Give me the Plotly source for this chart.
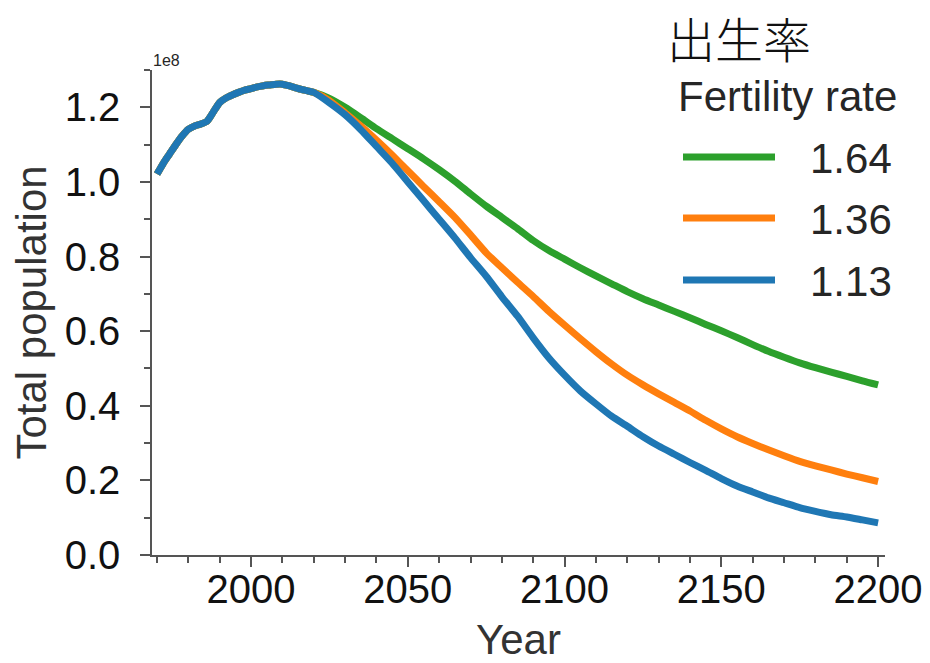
import plotly.graph_objects as go

# Recorded total population (units of 1e8 people)
hist_years = [1970, 1972, 1974, 1976, 1978, 1980, 1982, 1984, 1986, 1988,
              1990, 1992, 1994, 1996, 1998, 2000, 2002, 2004, 2006, 2008,
              2010, 2012, 2014, 2016, 2018, 2020]
hist_pop = [1.021, 1.050, 1.075, 1.100, 1.123, 1.141, 1.150, 1.155, 1.163, 1.188,
            1.213, 1.225, 1.233, 1.240, 1.246, 1.250, 1.255, 1.258, 1.260, 1.262,
            1.262, 1.258, 1.253, 1.248, 1.244, 1.240]

# Projection years
proj_years = [2025, 2030, 2035, 2040, 2045, 2050, 2055, 2060, 2065, 2070,
              2075, 2080, 2085, 2090, 2095, 2100, 2105, 2110, 2115, 2120,
              2125, 2130, 2135, 2140, 2145, 2150, 2155, 2160, 2165, 2170,
              2175, 2180, 2185, 2190, 2195, 2200]

# Projected population for each fertility rate (units of 1e8)
pop_164 = [1.224, 1.200, 1.172, 1.143, 1.116, 1.089, 1.062, 1.033, 1.002, 0.968,
           0.935, 0.905, 0.875, 0.843, 0.816, 0.793, 0.770, 0.748, 0.727, 0.706,
           0.687, 0.670, 0.653, 0.636, 0.618, 0.601, 0.583, 0.564, 0.546, 0.530,
           0.515, 0.502, 0.490, 0.479, 0.467, 0.456]
pop_136 = [1.218, 1.185, 1.150, 1.112, 1.072, 1.030, 0.988, 0.947, 0.905, 0.858,
           0.810, 0.770, 0.731, 0.693, 0.653, 0.616, 0.580, 0.545, 0.512, 0.482,
           0.456, 0.432, 0.409, 0.386, 0.361, 0.338, 0.317, 0.299, 0.282, 0.266,
           0.251, 0.239, 0.228, 0.217, 0.207, 0.197]
pop_113 = [1.212, 1.180, 1.140, 1.095, 1.050, 1.000, 0.950, 0.900, 0.850, 0.797,
           0.747, 0.692, 0.640, 0.582, 0.528, 0.482, 0.440, 0.405, 0.372, 0.345,
           0.317, 0.292, 0.270, 0.248, 0.227, 0.205, 0.185, 0.169, 0.153, 0.140,
           0.127, 0.117, 0.108, 0.102, 0.094, 0.086]

rate_labels = ["1.64", "1.36", "1.13"]
rate_colors = ["#2ca02c", "#ff7f0e", "#1f77b4"]
rate_series = [pop_164, pop_136, pop_113]

FONT = "Liberation Sans, Arial, sans-serif"
AXIS_COLOR = "#555555"

fig = go.Figure()
for label, color, vals in zip(rate_labels, rate_colors, rate_series):
    fig.add_trace(go.Scatter(
        x=hist_years + proj_years,
        y=hist_pop + vals,
        mode="lines",
        name=label,
        line=dict(color=color, width=7, shape="spline", smoothing=0.6),
        showlegend=False,
    ))

# Plot area in pixels: left 152, right 885, top 70, bottom 555
W, H = 930, 663
L, R, T, B = 152, 45, 70, 108
pw, ph = W - L - R, H - T - B


def px(x):
    return (x - L) / pw


def py(y):
    return (H - B - y) / ph


# Hand-drawn legend: long line samples with labels
legend_rows = [157, 218, 280]
for label, color, y in zip(rate_labels, rate_colors, legend_rows):
    fig.add_shape(type="line", xref="paper", yref="paper",
                  x0=px(683), x1=px(775), y0=py(y), y1=py(y),
                  line=dict(color=color, width=7))
    fig.add_annotation(xref="paper", yref="paper", x=px(808), y=py(y + 1),
                       text=label, showarrow=False, xanchor="left", yanchor="middle",
                       font=dict(family=FONT, size=42, color="#262626"))

fig.add_annotation(xref="paper", yref="paper", x=px(676), y=py(96),
                   text="Fertility rate", showarrow=False,
                   xanchor="left", yanchor="middle",
                   font=dict(family=FONT, size=42, color="#262626"))
fig.add_annotation(xref="paper", yref="paper", x=px(665), y=py(37),
                   text="出生率", showarrow=False,
                   xanchor="left", yanchor="middle",
                   font=dict(family="Noto Sans CJK JP", size=48, color="#111111",
                             weight=300))

# Offset multiplier above the y axis
fig.add_annotation(xref="paper", yref="paper", x=px(151), y=py(60),
                   text="1e8", showarrow=False, xanchor="left", yanchor="middle",
                   font=dict(family=FONT, size=16, color="#262626"))

fig.update_layout(
    width=W, height=H,
    margin=dict(l=L, r=R, t=T, b=B, autoexpand=False),
    paper_bgcolor="white", plot_bgcolor="white",
    font=dict(family=FONT, color="#262626"),
    xaxis=dict(
        range=[1968.4, 2202.2],
        automargin=False,
        tick0=2000, dtick=50,
        ticks="outside", ticklen=10, tickwidth=1.5, tickcolor=AXIS_COLOR,
        showline=True, linecolor=AXIS_COLOR, linewidth=1.5,
        showgrid=False, zeroline=False,
        tickfont=dict(size=40, color="#111111"),
        ticklabelstandoff=-12,
        minor=dict(tick0=1970, dtick=10, ticks="outside", ticklen=6,
                   tickwidth=1.5, tickcolor=AXIS_COLOR, showgrid=False),
        title=dict(text="Year", font=dict(size=42, color="#333333"), standoff=36),
    ),
    yaxis=dict(
        range=[0, 1.3],
        automargin=False,
        tick0=0, dtick=0.2, tickformat=".1f",
        ticks="outside", ticklen=10, tickwidth=1.5, tickcolor=AXIS_COLOR,
        showline=True, linecolor=AXIS_COLOR, linewidth=1.5,
        showgrid=False, zeroline=False,
        tickfont=dict(size=40, color="#111111"),
        ticklabelstandoff=12,
        minor=dict(tick0=0, dtick=0.1, ticks="outside", ticklen=6,
                   tickwidth=1.5, tickcolor=AXIS_COLOR, showgrid=False),
        title=dict(text="Total population", font=dict(size=42, color="#333333"), standoff=5),
    ),
)

fig.write_html("out.html")
